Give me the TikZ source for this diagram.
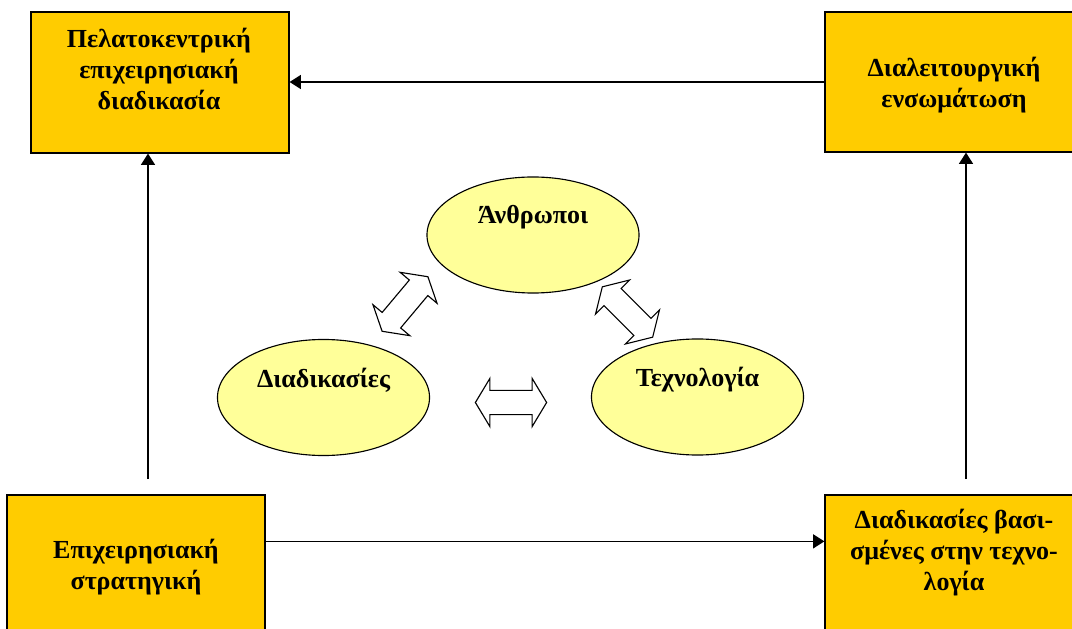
\documentclass[tikz,border=0pt]{standalone}
\usepackage{fontspec}
\setmainfont{Liberation Serif}
\usetikzlibrary{shapes.geometric,shapes.arrows,arrows.meta,calc,fit}
\definecolor{boxgold}{HTML}{FFCC00}
\definecolor{blobyellow}{HTML}{FFFF99}
\tikzset{
    box/.style={draw,fill=boxgold,line width=0.9pt,inner sep=0pt},
    boxtext/.style={align=center,font=\bfseries\fontsize{18.5}{22}\selectfont},
    blob/.style={ellipse,draw,fill=blobyellow,line width=0.8pt,inner sep=0pt,
        minimum width=5.3cm,minimum height=2.9cm,align=center,
        font=\bfseries\fontsize{18.5}{22}\selectfont},
    twoway/.style={double arrow,draw,fill=white,line width=0.8pt,
        inner xsep=0pt,inner ysep=0.2875cm,minimum height=1.78cm,minimum width=1.175cm,
        double arrow head extend=0.3cm,double arrow tip angle=118},
    arr/.style={-{Triangle[length=8pt,width=10pt]},line width=0.8pt}
}

\begin{document}
\begin{tikzpicture}[x=0.025cm,y=-0.025cm]
    \useasboundingbox (0,0) rectangle (1072,629);
    \clip (0,0) rectangle (1072,629);
    % the four corner boxes
    \node[box,fit={(31,12) (289,153)}] (custproc) {};
    \node[box,fit={(825,12) (1090,152)}] (crossfunc) {};
    \node[box,fit={(7,495) (265,660)}] (strategy) {};
    \node[box,fit={(825,495) (1090,660)}] (techproc) {};
    \node[boxtext] (custproctxt) at (159,69) {Πελατοκεντρική\\επιχειρησιακή\\διαδικασία};
    \node[boxtext] (crossfunctxt) at (954,85) {Διαλειτουργική\\ενσωμάτωση};
    \node[boxtext] (strategytxt) at (136,567) {Επιχειρησιακή\\στρατηγική};
    \node[boxtext] (techproctxt) at (954,553) {Διαδικασίες βασι-\\σμένες στην τεχνο-\\λογία};
    % connectors
    \coordinate (leftfoot) at (148,479);
    \coordinate (rightfoot) at (966,479);
    \draw[arr] (crossfunc.west) -- (crossfunc.west -| custproc.east);
    \draw[arr] ($(strategy.north east)+(0,47)$) -- ($(techproc.north west)+(0,47)$);
    \draw[arr] (leftfoot) -- (leftfoot |- custproc.south);
    \draw[arr] (rightfoot) -- (rightfoot |- crossfunc.south);
    % the triangle in the middle
    \node[blob] (people) at (533,235) {Άνθρωποι\\\strut};
    \node[blob] (processes) at (323.5,397.5) {Διαδικασίες\\\strut};
    \node[blob] (technology) at (697.5,397) {Τεχνολογία\\\strut};
    \node[twoway,rotate=50] (peopleproc) at (405,304) {};
    \node[twoway,rotate=-45] (peopletech) at (627.5,312) {};
    \node[twoway] (proctech) at (511,402.5) {};
\end{tikzpicture}
\end{document}
